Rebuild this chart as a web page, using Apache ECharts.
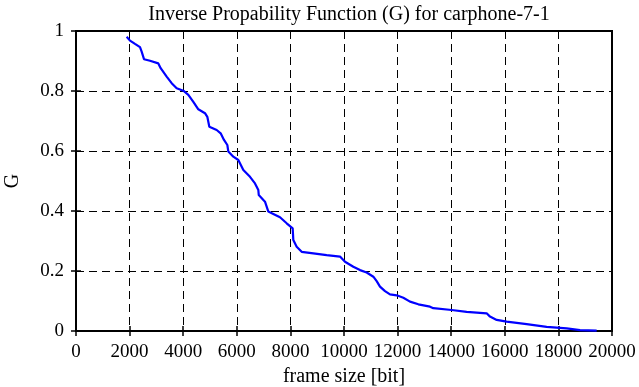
<!DOCTYPE html>
<html>
<head>
<meta charset="utf-8">
<script src="https://cdn.jsdelivr.net/npm/echarts@6/dist/echarts.min.js"></script>
<style>html,body{margin:0;padding:0;background:#fff}#c{width:639px;height:387px}</style>
</head>
<body>
<div id="c"></div>
<script>
const frameSize = [1890,2015,2201,2388,2450,2537,2761,3072,3159,3383,3570,3756,4005,4192,4378,4564,4813,4900,4975,5249,5398,5522,5647,5684,5870,6057,6244,6493,6679,6803,6820,7052,7177,7363,7612,7861,8085,8109,8234,8420,8855,9353,9851,10037,10348,10597,10846,11095,11219,11343,11530,11716,11965,12214,12463,12774,13209,13333,14017,14577,15323,15448,15697,16070,16816,17562,18309,18806,19428];
const gValues = [0.981,0.968,0.957,0.946,0.931,0.906,0.901,0.892,0.876,0.848,0.826,0.809,0.801,0.787,0.764,0.739,0.726,0.714,0.681,0.670,0.659,0.637,0.620,0.598,0.581,0.570,0.537,0.514,0.492,0.470,0.453,0.431,0.398,0.390,0.379,0.359,0.342,0.303,0.281,0.264,0.259,0.253,0.248,0.231,0.214,0.203,0.195,0.181,0.166,0.148,0.133,0.122,0.119,0.111,0.098,0.089,0.081,0.076,0.070,0.064,0.059,0.048,0.037,0.031,0.023,0.014,0.009,0.003,0.001];
const titleText = 'Inverse Propability Function (G) for carphone-7-1';
const xName = 'frame size [bit]';
const yName = 'G';

const font = 'Liberation Serif';
const chart = echarts.init(document.getElementById('c'), null, {renderer: 'canvas'});
const data = frameSize.map((x, i) => [x, gValues[i]]);
const tickCommon = {show: true, inside: true, length: 5, lineStyle: {color: '#000', width: 1.5}};
const plain = v => String(v);
chart.setOption({
  animation: false,
  title: {text: titleText, left: 344, top: 0, textAlign: 'center',
    textStyle: {fontFamily: font, fontSize: 20, fontWeight: 'normal', color: '#000'}},
  grid: {left: 76, right: 27, top: 31, bottom: 56, containLabel: false, outerBoundsMode: 'none',
    show: true, borderColor: '#000', borderWidth: 2, backgroundColor: 'transparent'},
  xAxis: [{
    type: 'value', min: 0, max: 20000, interval: 2000, position: 'bottom',
    name: xName, nameLocation: 'middle', nameGap: 33,
    nameTextStyle: {fontFamily: font, fontSize: 20, color: '#000'},
    axisLine: {show: true, lineStyle: {color: '#000', width: 2}},
    axisTick: tickCommon,
    axisLabel: {fontFamily: font, fontSize: 19, color: '#000', margin: 12, formatter: plain, hideOverlap: false},
    splitLine: {show: true, lineStyle: {color: '#000', type: [8, 5], width: 1}}
  }, {
    type: 'value', min: 0, max: 20000, interval: 2000, position: 'top',
    axisLine: {show: true, lineStyle: {color: '#000', width: 2}},
    axisTick: tickCommon, axisLabel: {show: false}, splitLine: {show: false}
  }],
  yAxis: [{
    type: 'value', min: 0, max: 1, interval: 0.2, position: 'left',
    name: yName, nameLocation: 'middle', nameGap: 53, nameRotate: 90,
    nameTextStyle: {fontFamily: font, fontSize: 20, color: '#000'},
    axisLine: {show: true, lineStyle: {color: '#000', width: 2}},
    axisTick: tickCommon,
    axisLabel: {fontFamily: font, fontSize: 19, color: '#000', margin: 12, formatter: plain},
    splitLine: {show: true, lineStyle: {color: '#000', type: [8, 5], width: 1}}
  }, {
    type: 'value', min: 0, max: 1, interval: 0.2, position: 'right',
    axisLine: {show: true, lineStyle: {color: '#000', width: 2}},
    axisTick: tickCommon, axisLabel: {show: false}, splitLine: {show: false}
  }],
  series: [{
    type: 'line', data: data, xAxisIndex: 0, yAxisIndex: 0,
    showSymbol: false, symbol: 'none',
    lineStyle: {color: '#0000ff', width: 2.2}
  }]
});
</script>
</body>
</html>
